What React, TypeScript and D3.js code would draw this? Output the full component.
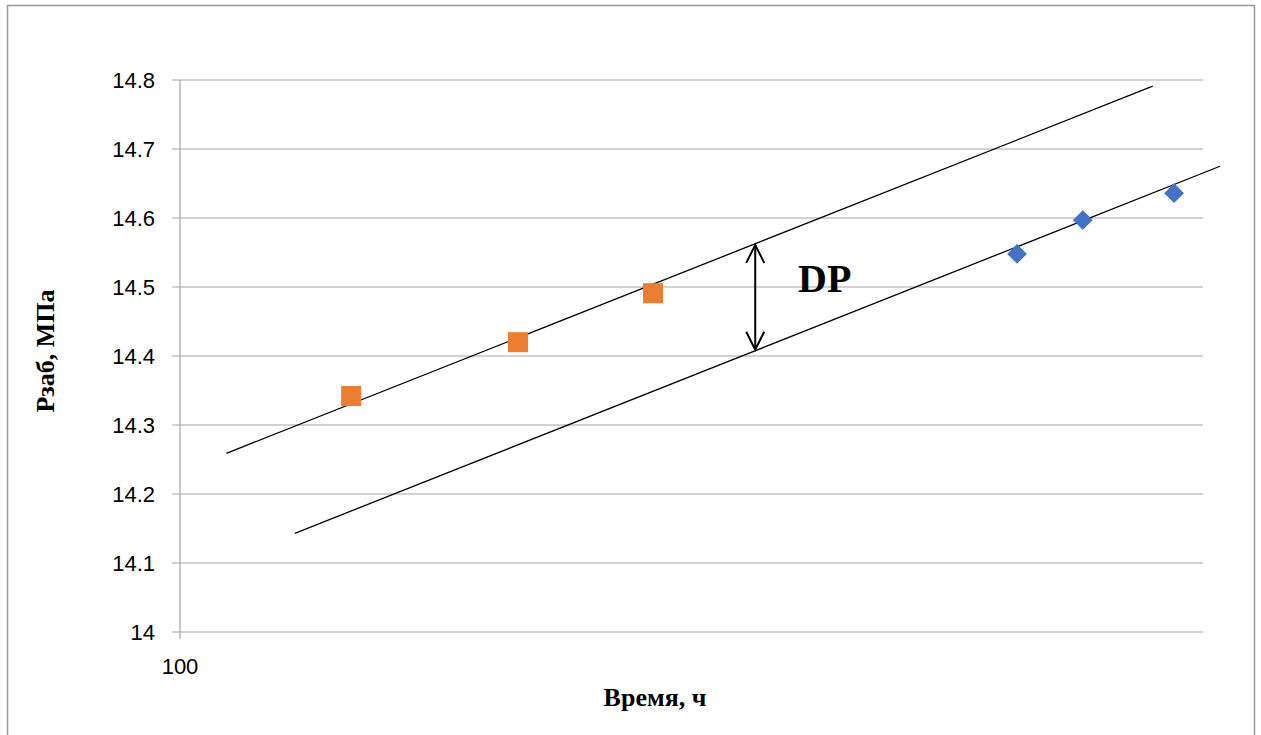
import * as d3 from 'd3';
import * as React from 'react';

// values
const orangeTime = [147, 214, 290];
const orangeP = [14.342, 14.42, 14.491];
const blueTime = [658, 763, 937];
const blueP = [14.548, 14.597, 14.636];

// the two hand-drawn parallel lines
const upperLineTime = [111, 893];
const upperLineP = [14.259, 14.791];
const lowerLineTime = [129.5, 1039];
const lowerLineP = [14.143, 14.675];

// DP arrow between the lines
const dpTime = 365;
const dpP = [14.561, 14.409];

const yTicks = [14, 14.1, 14.2, 14.3, 14.4, 14.5, 14.6, 14.7, 14.8];
const xTicks = [100];

const W = 1261, H = 735;
const margin = { top: 80, right: 58, bottom: 103, left: 180 };

export default function App() {
  const x = d3.scaleLog().domain([100, 1000]).range([margin.left, W - margin.right]);
  const y = d3.scaleLinear().domain([14, 14.8]).range([H - margin.bottom, margin.top]);

  const line = d3.line<[number, number]>().x(d => x(d[0])).y(d => y(d[1]));
  const upper = upperLineTime.map((t, i) => [t, upperLineP[i]] as [number, number]);
  const lower = lowerLineTime.map((t, i) => [t, lowerLineP[i]] as [number, number]);

  const ax = x(dpTime), ay1 = y(dpP[0]), ay2 = y(dpP[1]);
  const tickFont = '"Liberation Sans", Arial, sans-serif';
  const serif = '"Liberation Serif", "Times New Roman", serif';

  return (
    <div style={{ position: 'absolute', left: 0, top: 0 }}>
      <svg width={W} height={H} style={{ display: 'block', background: '#fff' }}>
        <rect x={7.5} y={5.5} width={1247} height={760} fill="none" stroke="#999" strokeWidth={1.5} />

        {/* gridlines */}
        {yTicks.map(t => (
          <line key={t} x1={margin.left - 8} x2={W - margin.right} y1={y(t)} y2={y(t)} stroke="#a6a6a6" strokeWidth={1.2} />
        ))}
        <line x1={margin.left} x2={margin.left} y1={y(14.8)} y2={y(14) + 7} stroke="#a6a6a6" strokeWidth={1.2} />

        {yTicks.map(t => (
          <text key={t} x={155} y={y(t)} dy="0.36em" textAnchor="end" fontFamily={tickFont} fontSize={22} fill="#000">
            {d3.format('')(t)}
          </text>
        ))}
        {xTicks.map(t => (
          <text key={t} x={x(t)} y={y(14) + 34} dy="0.36em" textAnchor="middle" fontFamily={tickFont} fontSize={22} fill="#000">
            {t}
          </text>
        ))}

        {/* fitted lines */}
        <path d={line(upper) || ''} fill="none" stroke="#000" strokeWidth={1.3} />
        <path d={line(lower) || ''} fill="none" stroke="#000" strokeWidth={1.3} />

        {/* markers */}
        {orangeTime.map((t, i) => (
          <rect key={i} x={x(t) - 10} y={y(orangeP[i]) - 10} width={20} height={20} fill="#ED7D31" />
        ))}
        {blueTime.map((t, i) => (
          <rect key={i} x={x(t) - 7} y={y(blueP[i]) - 7} width={14} height={14} fill="#4472C4"
            transform={`rotate(45 ${x(t)} ${y(blueP[i])})`} />
        ))}

        {/* DP arrow */}
        <g stroke="#000" strokeWidth={2} fill="none">
          <line x1={ax} x2={ax} y1={ay1} y2={ay2} />
          <polyline points={`${ax - 9},${ay1 + 18} ${ax},${ay1} ${ax + 9},${ay1 + 18}`} />
          <polyline points={`${ax - 9},${ay2 - 18} ${ax},${ay2} ${ax + 9},${ay2 - 18}`} />
        </g>
        <text x={798} y={292} fontFamily={serif} fontWeight="bold" fontSize={40} fill="#000">DP</text>

        {/* axis titles */}
        <text x={655} y={706} textAnchor="middle" fontFamily={serif} fontWeight="bold" fontSize={26} fill="#000">Время, ч</text>
        <text transform="translate(54,351) rotate(-90)" textAnchor="middle" fontFamily={serif} fontWeight="bold" fontSize={26} fill="#000">Рзаб, МПа</text>
      </svg>
    </div>
  );
}
